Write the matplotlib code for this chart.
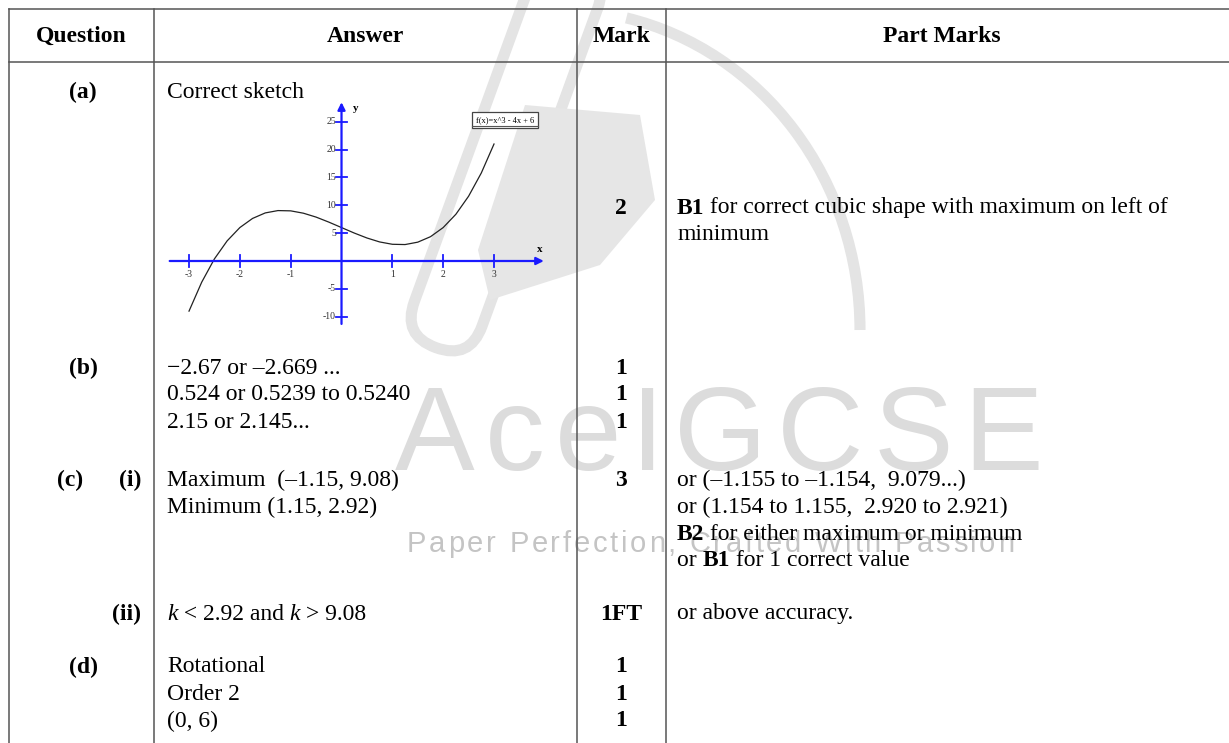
import matplotlib.pyplot as plt
import matplotlib.patches as mpatches
from matplotlib.transforms import Affine2D

# === DONNEES ===
headers = ["Question", "Answer", "Mark", "Part Marks"]
col_edges = [9, 154, 577, 666, 1218]

# lignes de texte: (y, texte)
question_labels = [(92, "(a)"), (368, "(b)"), (480, "(c)"), (667, "(d)")]
sub_labels = [(480, "(i)"), (614, "(ii)")]
answer_lines = [
    (92, [("Correct sketch", "r")]),
    (368, [("\u22122.67 or \u20132.669 ...", "r")]),
    (395, [("0.524 or 0.5239 to 0.5240", "r")]),
    (422, [("2.15 or 2.145...", "r")]),
    (480, [("Maximum  (\u20131.15, 9.08)", "r")]),
    (507, [("Minimum (1.15, 2.92)", "r")]),
    (614, [("k", "i"), (" < 2.92 and ", "r"), ("k", "i"), (" > 9.08", "r")]),
    (667, [("Rotational", "r")]),
    (694, [("Order 2", "r")]),
    (721, [("(0, 6)", "r")]),
]
marks = [(208, "2"), (368, "1"), (395, "1"), (422, "1"), (480, "3"),
         (614, "1FT"), (667, "1"), (694, "1"), (721, "1")]
part_lines = [
    (208, [("B1", "b"), (" for correct cubic shape with maximum on left of", "r")]),
    (234, [("minimum", "r")]),
    (480, [("or (\u20131.155 to \u20131.154,  9.079...)", "r")]),
    (507, [("or (1.154 to 1.155,  2.920 to 2.921)", "r")]),
    (534, [("B2", "b"), (" for either maximum or minimum", "r")]),
    (561, [("or ", "r"), ("B1", "b"), (" for 1 correct value", "r")]),
    (614, [("or above accuracy.", "r")]),
]

# croquis f(x) = x^3 - 4x + 6
sketch_x = [-3, -2.75, -2.5, -2.25, -2, -1.75, -1.5, -1.25, -1, -0.75, -0.5, -0.25,
            0, 0.25, 0.5, 0.75, 1, 1.25, 1.5, 1.75, 2, 2.25, 2.5, 2.75, 3]
sketch_y = [-9, -3.8, 0.38, 3.61, 6, 7.64, 8.63, 9.05, 9, 8.58, 7.88, 6.98,
            6, 5.02, 4.13, 3.42, 3, 2.95, 3.38, 4.36, 6, 8.39, 11.63, 15.8, 21]
x_ticks = [-3, -2, -1, 1, 2, 3]
y_ticks = [-10, -5, 5, 10, 15, 20, 25]

SERIF = "Liberation Serif"
SANS = "Liberation Sans"
FS = 17
LINE = "#555555"

fig = plt.figure(figsize=(12.29, 7.43), dpi=100)
ax = fig.add_axes([0, 0, 1, 1])
ax.set_xlim(0, 1229)
ax.set_ylim(743, 0)
ax.axis("off")

# --- filigrane (logo + texte) ---
wm = "#e4e4e4"
capsule = mpatches.FancyBboxPatch((470, -50), 72, 410, boxstyle="round,pad=0,rounding_size=36",
                                  fc="none", ec=wm, lw=8, zorder=0)
capsule.set_transform(Affine2D().rotate_deg_around(506, 155, 20) + ax.transData)
ax.add_patch(capsule)
nib = mpatches.Polygon([(525, 105), (640, 115), (655, 200), (600, 265), (490, 300), (478, 250)],
                       closed=True, fc="#e6e6e6", ec="none", zorder=0)
ax.add_patch(nib)
arc = mpatches.Arc((560, 330), 600, 640, theta1=-78, theta2=0, ec=wm, lw=8, zorder=0)
ax.add_patch(arc)


def chain(x, y, s, track, **kw):
    prev = ax.text(x, y, s[0], ha="left", va="baseline", **kw)
    for ch in s[1:]:
        prev = ax.annotate(ch, xy=(1, 0), xycoords=prev, xytext=(track, 0),
                           textcoords="offset pixels", ha="left", va="bottom", **kw)


chain(395, 470, "AceIGCSE", 10, fontsize=86, family=SANS, color="#dcdcdc", zorder=0)
chain(407, 552, "Paper Perfection, Crafted With Passion", 2.7, fontsize=21, family=SANS,
      color="#c4c4c4", zorder=0)

# --- grille du tableau ---
for x in col_edges[:-1]:
    ax.plot([x, x], [9, 743], color=LINE, lw=1.1, zorder=2)
for y in (9, 62):
    ax.plot([9, 1229], [y, y], color=LINE, lw=1.1, zorder=2)

centers = [(a + b) / 2 for a, b in zip(col_edges[:-1], col_edges[1:])]
for cx, h in zip(centers, headers):
    ax.text(cx, 36, h, ha="center", va="center", fontsize=FS, family=SERIF,
            fontweight="bold", zorder=3)


def runs(x, y, parts):
    prev = None
    for txt, st in parts:
        kw = dict(fontsize=FS, family=SERIF, zorder=3,
                  fontweight="bold" if st == "b" else "normal",
                  fontstyle="italic" if st == "i" else "normal")
        if prev is None:
            prev = ax.text(x, y, txt, ha="left", va="center", **kw)
        else:
            prev = ax.annotate(txt, xy=(1, 0), xycoords=prev, ha="left", va="bottom", **kw)


for y, s in question_labels:
    x = 83 if s != "(c)" else 70
    ax.text(x, y, s, ha="center", va="center", fontsize=FS, family=SERIF,
            fontweight="bold", zorder=3)
for y, s in sub_labels:
    ax.text(141, y, s, ha="right", va="center", fontsize=FS, family=SERIF,
            fontweight="bold", zorder=3)
for y, parts in answer_lines:
    runs(167, y, parts)
for y, s in marks:
    ax.text(621, y, s, ha="center", va="center", fontsize=FS, family=SERIF,
            fontweight="bold", zorder=3)
for y, parts in part_lines:
    runs(677, y, parts)

# --- croquis de la fonction ---
sx = fig.add_axes([167 / 1229, 1 - 325 / 743, 378 / 1229, 225 / 743])
sx.set_xlim(-3.433, 4.003)
sx.set_ylim(-11.49, 28.9)
sx.axis("off")
sx.patch.set_alpha(0)
blue = "#1a1aff"
arrow = dict(arrowstyle="-|>", color=blue, lw=1.6, mutation_scale=11, shrinkA=0, shrinkB=0)
sx.annotate("", xy=(3.98, 0), xytext=(-3.38, 0), arrowprops=arrow)
sx.annotate("", xy=(0, 28.5), xytext=(0, -11.3), arrowprops=arrow)
for t in x_ticks:
    sx.plot([t, t], [-1.0, 1.0], color=blue, lw=1.3)
    sx.text(t, -1.6, str(t), ha="center", va="top", fontsize=7, family=SERIF, color="#333333")
for t in y_ticks:
    sx.plot([-0.1, 0.1], [t, t], color=blue, lw=1.3)
    sx.text(-0.11, t, str(t), ha="right", va="center", fontsize=7, family=SERIF, color="#333333")
sx.text(0.22, 27.3, "y", ha="left", va="center", fontsize=8, family=SERIF, fontweight="bold")
sx.text(3.9, 2.1, "x", ha="center", va="center", fontsize=8, family=SERIF, fontweight="bold")
sx.plot(sketch_x, sketch_y, color="#222222", lw=0.9)

# encadre de legende
ax.text(505, 120, "f(x)=x^3 - 4x + 6", ha="center", va="center", fontsize=6, family=SERIF,
        zorder=4, bbox=dict(boxstyle="square,pad=0.45", fc="white", ec="#444444", lw=0.9))
ax.plot([472, 538], [125.5, 125.5], color="#555555", lw=0.8, zorder=5)

fig.savefig("out.png", dpi=100)
